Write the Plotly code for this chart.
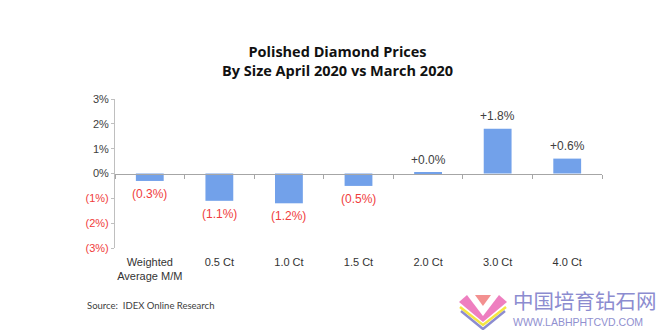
import plotly.graph_objects as go

categories = ["Weighted<br>Average M/M", "0.5 Ct", "1.0 Ct", "1.5 Ct", "2.0 Ct", "3.0 Ct", "4.0 Ct"]
values = [-0.3, -1.1, -1.2, -0.5, 0.04, 1.8, 0.6]
labels = ["(0.3%)", "(1.1%)", "(1.2%)", "(0.5%)", "+0.0%", "+1.8%", "+0.6%"]
y_ticks = [3, 2, 1, 0, -1, -2, -3]
y_tick_labels = ["3%", "2%", "1%", "0%", "(1%)", "(2%)", "(3%)"]

RED = "#f03c3c"
GREY = "#404040"

W, H = 660, 330
ML, MR, MT, MB = 115, 58, 99, 82
PW, PH = W - ML - MR, H - MT - MB


def px(xp, yp):
    """pixel -> paper coordinates (for decorative items only)"""
    return (xp - ML) / PW, (H - MB - yp) / PH


ticktext = [
    (f'<span style="color:{RED}">{t}</span>' if v < 0 else t)
    for v, t in zip(y_ticks, y_tick_labels)
]

fig = go.Figure()
fig.add_trace(go.Bar(
    x=categories, y=values, width=0.4,
    marker=dict(color="#72a1ea", line=dict(width=0)),
    hoverinfo="skip", showlegend=False,
))
# boundary ticks along the zero line
fig.add_trace(go.Scatter(
    x=categories, y=[None] * len(categories), xaxis="x2", yaxis="y",
    mode="markers", showlegend=False, hoverinfo="skip",
))

for c, v, t in zip(categories, values, labels):
    neg = v < 0
    fig.add_annotation(
        x=c, y=v, xref="x", yref="y", text=t, showarrow=False,
        yshift=-13 if neg else 13,
        font=dict(family="Liberation Sans, Arial", size=12, color=RED if neg else GREY),
    )

# title
tx, ty = px(337, 61.5)
fig.add_annotation(
    xref="paper", yref="paper", x=tx, y=ty, xanchor="center", yanchor="middle",
    text="<b>Polished Diamond Prices</b><br><b>By Size April 2020 vs March 2020</b>",
    showarrow=False, align="center",
    font=dict(family="Open Sans", size=14.5, color="#111111"),
)

sx, sy = px(85, 305)
fig.add_annotation(
    xref="paper", yref="paper", x=sx, y=sy, xanchor="left", yanchor="middle",
    text="Source:  IDEX Online Research", showarrow=False,
    font=dict(family="Lato, Open Sans", size=9.5, color="#404040"),
)

# watermark text
wx, wy = px(511, 300)
fig.add_annotation(
    xref="paper", yref="paper", x=wx, y=wy, xanchor="left", yanchor="middle",
    text="中国培育钻石网", showarrow=False,
    font=dict(family="Noto Sans CJK SC", size=20.5, color="#8c8cd0"),
)
ux, uy = px(511, 322)
fig.add_annotation(
    xref="paper", yref="paper", x=ux, y=uy, xanchor="left", yanchor="middle",
    text="WWW.LABHPHTCVD.COM", showarrow=False,
    font=dict(family="Liberation Sans, Arial", size=10.5, color="#9090d0"),
)


def poly(points, color):
    pts = [px(a, b) for a, b in points]
    path = "M " + " L ".join(f"{a:.4f},{b:.4f}" for a, b in pts) + " Z"
    fig.add_shape(type="path", path=path, xref="paper", yref="paper",
                  fillcolor=color, line=dict(width=0), layer="above")


def pline(points, color, width):
    pts = [px(a, b) for a, b in points]
    path = "M " + " L ".join(f"{a:.4f},{b:.4f}" for a, b in pts)
    fig.add_shape(type="path", path=path, xref="paper", yref="paper",
                  line=dict(color=color, width=width), layer="above")


# watermark logo
pline([(461, 311), (483, 329), (505, 311)], "#8c8cd0", 2.5)
pline([(460, 307), (483, 325), (506, 307)], "#f5e642", 2.5)
poly([(459, 302), (467, 295), (483, 316), (483, 322)], "#ee7fc0")
poly([(507, 302), (499, 295), (483, 316), (483, 322)], "#ee7fc0")
poly([(475, 295), (491, 295), (483, 306)], "#f39090")

fig.update_layout(
    width=W, height=H,
    margin=dict(l=ML, r=MR, t=MT, b=MB),
    paper_bgcolor="white", plot_bgcolor="white",
    xaxis=dict(
        type="category", showline=False, ticks="", showgrid=False, zeroline=False,
        tickfont=dict(family="Liberation Sans, Arial", size=11, color="#333333"),
        ticklabelstandoff=6,
    ),
    xaxis2=dict(
        type="category", overlaying="x", anchor="free", position=0.5, side="bottom",
        showline=True, linecolor="#a6a6a6", linewidth=1,
        ticks="outside", tickson="boundaries", ticklen=4, tickcolor="#a6a6a6",
        showticklabels=False, showgrid=False, zeroline=False,
        matches="x",
    ),
    yaxis=dict(
        range=[-3, 3], tickvals=y_ticks, ticktext=ticktext,
        showgrid=False, zeroline=False, showline=True, linecolor="#bfbfbf", linewidth=1,
        ticks="outside", ticklen=3, tickcolor="#bfbfbf",
        tickfont=dict(family="Liberation Sans, Arial", size=11, color="#404040"),
    ),
    bargap=0.6,
)

fig.write_html("out.html")
